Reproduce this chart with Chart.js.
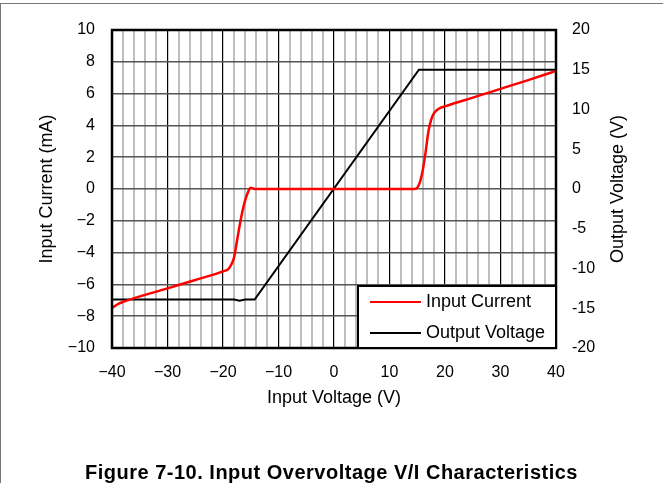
<!DOCTYPE html>
<html>
<head>
<meta charset="utf-8">
<script src="https://cdn.jsdelivr.net/npm/chart.js@4/dist/chart.umd.min.js"></script>
<style>
html,body{margin:0;padding:0;background:#fff;}
#wrap{position:relative;width:663px;height:483px;overflow:hidden;}
#frame{position:absolute;left:0;top:3px;width:663px;height:480px;border-top:1px solid #777;border-left:1px solid #777;box-sizing:border-box;}
#cap{position:absolute;left:0;width:663px;top:461px;text-align:center;font:bold 20px "Liberation Sans",Arial,sans-serif;letter-spacing:0.5px;color:#000;}
canvas{position:absolute;left:0;top:0;}
</style>
</head>
<body>
<div id="wrap">
  <div id="frame"></div>
  <canvas id="c" width="663" height="483"></canvas>
  <div id="cap">Figure 7-10. Input Overvoltage V/I Characteristics</div>
</div>
<script>
// values
const vinCurrent   = [-40, -39, -38, -30, -25, -20, -19, -18.5, -18, -17.5, -17, -16.5, -16, -15.5, -15, -14.5, -14, 0, 14.5, 15, 15.5, 16, 16.5, 17, 17.5, 18, 18.5, 19, 20, 25, 30, 35, 40];
const inputCurrent = [-7.5, -7.25, -7.1, -6.25, -5.72, -5.18, -5.02, -4.75, -4.3, -3.3, -2.3, -1.4, -0.7, -0.2, 0.08, 0.02, 0, 0, 0, 0.08, 0.45, 1.2, 2.3, 3.6, 4.35, 4.75, 4.95, 5.07, 5.2, 5.75, 6.3, 6.85, 7.42];
const vinOutput     = [-40, -18, -17, -16, -14.3, 15.3, 40];
const outputVoltage = [-13.9, -13.9, -14.05, -13.9, -13.9, 15, 15];

const xTicks  = [-40, -30, -20, -10, 0, 10, 20, 30, 40];
const xLabels = ["\u221240", "\u221230", "\u221220", "\u221210", "0", "10", "20", "30", "40"];
const yTicks  = [-10, -8, -6, -4, -2, 0, 2, 4, 6, 8, 10];
const yLabels = ["\u221210", "\u22128", "\u22126", "\u22124", "\u22122", "0", "2", "4", "6", "8", "10"];
const y2Ticks  = [-20, -15, -10, -5, 0, 5, 10, 15, 20];
const y2Labels = ["-20", "-15", "-10", "-5", "0", "5", "10", "15", "20"];
const y2Title = "Output Voltage (V)";

const FONT = '"Liberation Sans", Arial, sans-serif';
function lbl(ticks, labels){ return v => { const i = ticks.indexOf(Math.round(v)); return i < 0 ? "" : labels[i]; }; }
function pts(xs, ys){ return xs.map((x,i)=> ({x, y: ys[i]})); }

const framePlugin = {
  id: "frame",
  afterDatasetsDraw(chart){
    const a = chart.chartArea, ctx = chart.ctx;
    ctx.save();
    ctx.strokeStyle = "#000"; ctx.lineWidth = 2.5;
    ctx.strokeRect(a.left, a.top, a.right - a.left, a.bottom - a.top);
    // legend box in the bottom right corner
    const w = 198, h = 62, bx = a.right - w, by = a.bottom - h;
    ctx.fillStyle = "#fff"; ctx.fillRect(bx, by, w, h);
    ctx.lineWidth = 2; ctx.strokeRect(bx, by, w, h);
    ctx.font = "18px " + FONT; ctx.textBaseline = "middle"; ctx.textAlign = "left";
    chart.data.datasets.forEach((ds, i) => {
      const yy = by + 16 + i * 31;
      ctx.strokeStyle = ds.borderColor; ctx.lineWidth = 2;
      ctx.beginPath(); ctx.moveTo(bx + 12, yy); ctx.lineTo(bx + 63, yy); ctx.stroke();
      ctx.fillStyle = "#000"; ctx.fillText(ds.label, bx + 68, yy);
    });
    // right axis title reads bottom to top
    const s = chart.scales.y2;
    ctx.translate(s.right - 45, (a.top + a.bottom) / 2);
    ctx.rotate(-Math.PI / 2);
    ctx.textAlign = "center";
    ctx.fillText(y2Title, 0, 0);
    ctx.restore();
  }
};

new Chart(document.getElementById("c"), {
  type: "line",
  data: {
    datasets: [
      { label: "Input Current", data: pts(vinCurrent, inputCurrent), yAxisID: "y", borderColor: "#ff0000", borderWidth: 2.5, pointRadius: 0, cubicInterpolationMode: "monotone", fill: false },
      { label: "Output Voltage", data: pts(vinOutput, outputVoltage), yAxisID: "y2", borderColor: "#000000", borderWidth: 2, pointRadius: 0, tension: 0, fill: false }
    ]
  },
  options: {
    responsive: false, animation: false, devicePixelRatio: 1,
    layout: { padding: { top: 30, left: 0, right: 0, bottom: 0 } },
    plugins: { legend: { display: false }, tooltip: { enabled: false } },
    scales: {
      x: {
        type: "linear", min: -40, max: 40,
        afterFit: s => { s.height = 135; },
        ticks: { stepSize: 2, autoSkip: false, maxRotation: 0, padding: 15, color: "#000", font: { family: FONT, size: 16 }, callback: lbl(xTicks, xLabels) },
        grid: {
          drawTicks: false,
          color: c => (c.tick && Math.round(c.tick.value) % 10 === 0) ? "#000" : "#bdbdbd",
          lineWidth: c => (c.tick && Math.round(c.tick.value) % 10 === 0) ? 1.2 : 2
        },
        border: { display: false },
        title: { display: true, text: "Input Voltage (V)", color: "#000", font: { family: FONT, size: 18 }, padding: { top: 0, bottom: 74 } }
      },
      y: {
        position: "left", min: -10, max: 10,
        afterFit: s => { s.width = 112; },
        ticks: { stepSize: 2, padding: 17, color: "#000", font: { family: FONT, size: 16 }, callback: lbl(yTicks, yLabels) },
        grid: { drawTicks: false, color: "#555", lineWidth: 1.5 },
        border: { display: false },
        title: { display: true, text: "Input Current (mA)", color: "#000", font: { family: FONT, size: 18 }, padding: { top: 36, bottom: 0 } }
      },
      y2: {
        position: "right", min: -20, max: 20,
        afterFit: s => { s.width = 107; },
        ticks: { stepSize: 5, padding: 16, color: "#000", font: { family: FONT, size: 16 }, callback: lbl(y2Ticks, y2Labels) },
        grid: { display: false, drawTicks: false },
        border: { display: false },
        title: { display: false }
      }
    }
  },
  plugins: [framePlugin]
});
</script>
</body>
</html>
